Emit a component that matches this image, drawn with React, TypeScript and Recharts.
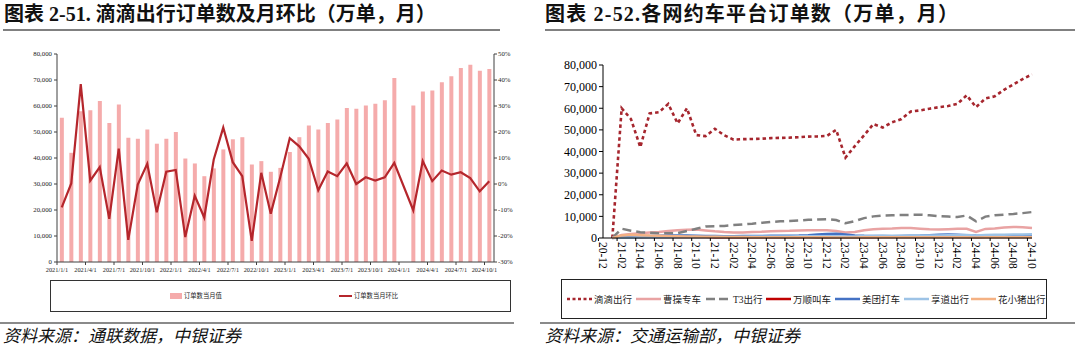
import React from 'react'
import { ComposedChart, Bar, Line, XAxis, YAxis } from 'recharts'

// ---- left chart: 滴滴出行订单数及月环比 ----
const leftMonths = [
  '2021/1/1', '2021/2/1', '2021/3/1', '2021/4/1', '2021/5/1', '2021/6/1', '2021/7/1', '2021/8/1', '2021/9/1', '2021/10/1', '2021/11/1', '2021/12/1',
  '2022/1/1', '2022/2/1', '2022/3/1', '2022/4/1', '2022/5/1', '2022/6/1', '2022/7/1', '2022/8/1', '2022/9/1', '2022/10/1', '2022/11/1', '2022/12/1',
  '2023/1/1', '2023/2/1', '2023/3/1', '2023/4/1', '2023/5/1', '2023/6/1', '2023/7/1', '2023/8/1', '2023/9/1', '2023/10/1', '2023/11/1', '2023/12/1',
  '2024/1/1', '2024/2/1', '2024/3/1', '2024/4/1', '2024/5/1', '2024/6/1', '2024/7/1', '2024/8/1', '2024/9/1', '2024/10/1',
]

// 订单数当月值（万单）
const monthlyOrders = [
  55500, 42000, 58000, 58400, 61900, 53500, 60600, 47800, 47400, 51000, 45500, 47400,
  50000, 39800, 37900, 33000, 36000, 43300, 47200, 48000, 37500, 38800, 34700, 36200,
  42300, 48000, 52500, 51000, 53500, 54800, 59200, 58900, 60200, 60900, 62200, 70800,
  null, 60200, 65600, 66000, 69100, 71400, 74600, 75900, 73600, 74200,
]

// 订单数当月环比（%）
const monthlyMoM = [
  -9.0, 0.2, 38.4, 1.3, 6.5, -13.4, 13.6, -21.5, -0.2, 7.8, -10.9, 4.7,
  5.4, -20.4, -4.5, -12.9, 9.4, 21.7, 8.4, 3.0, -21.9, 4.3, -11.4, 2.6,
  17.6, 14.5, 9.7, -2.4, 4.8, 3.0, 7.9, 0.0, 2.6, 1.3, 2.6, 8.1,
  null, -10.1, 8.8, 1.1, 5.2, 3.6, 4.5, 2.3, -2.8, 1.1,
]

const leftOrderTicks = [0, 10000, 20000, 30000, 40000, 50000, 60000, 70000, 80000]
const leftPctTicks = [-30, -20, -10, 0, 10, 20, 30, 40, 50]

// ---- right chart: 各网约车平台订单数 ----
const rightMonths = [
  '20-12', '21-01', '21-02', '21-03', '21-04', '21-05', '21-06', '21-07', '21-08', '21-09', '21-10', '21-11', '21-12',
  '22-01', '22-02', '22-03', '22-04', '22-05', '22-06', '22-07', '22-08', '22-09', '22-10', '22-11', '22-12',
  '23-01', '23-02', '23-03', '23-04', '23-05', '23-06', '23-07', '23-08', '23-09', '23-10', '23-11', '23-12',
  '24-01', '24-02', '24-03', '24-04', '24-05', '24-06', '24-07', '24-08', '24-09', '24-10',
]

const didi = [
  null, 0, 60000, 55000, 42000, 57600, 58200, 62000, 53000, 60000, 47600, 47100, 50500,
  47500, 45500, 45700, 45800, 45900, 46200, 46300, 46400, 46600, 46900, 47000, 47200,
  50000, 37200, 42500, 47500, 52700, 51100, 53500, 55000, 58500, 59000, 59800, 60500,
  61000, 62000, 66000, 60500, 64500, 65500, 68500, 71000, 73500, 75700,
]
const caocao = [
  null, 0, 1400, 1800, 2200, 2500, 2800, 3200, 3600, 3800, 3900, 3500, 3100,
  2800, 2600, 2600, 2800, 2900, 3100, 3200, 3300, 3500, 3600, 3600, 3600,
  3200, 2500, 2800, 3600, 4000, 4300, 4400, 4600, 4600, 4300, 4000, 3900,
  4100, 4300, 4300, 2800, 4200, 4400, 4800, 5100, 5000, 4600,
]
const t3 = [
  null, 0, 4300, 3400, 2700, 2500, 2200, 2200, 2300, 3200, 4300, 5300, 5400,
  5600, 6000, 6300, 6600, 7000, 7400, 7700, 7900, 8100, 8400, 8600, 8700,
  8300, 6800, 7800, 9200, 10000, 10400, 10500, 10600, 10700, 10800, 10500, 10100,
  9900, 9700, 10400, 7700, 9900, 10500, 10800, 11100, 11500, 12000,
]
const wanshun = [
  null, 0, 250, 300, 280, 320, 350, 380, 360, 330, 300, 290, 270,
  250, 240, 230, 240, 250, 260, 260, 270, 280, 290, 280, 270,
  240, 200, 230, 260, 280, 290, 300, 310, 320, 330, 320, 310,
  300, 300, 310, 250, 300, 320, 330, 340, 350, 340,
]
const meituan = [
  null, 0, 700, 800, 850, 900, 1000, 1100, 1200, 1150, 1050, 950, 900,
  850, 850, 900, 950, 950, 1000, 1000, 1050, 1100, 1300, 1600, 1900,
  2000, 1600, 1200, 1000, 900, 900, 850, 900, 1000, 1100, 1300, 1500,
  1600, 1500, 1300, 1100, 1000, 1000, 950, 1000, 1000, 1050,
]
const xiangdao = [
  null, 0, 100, 150, 200, 260, 300, 350, 420, 450, 500, 520, 550,
  560, 600, 620, 650, 660, 700, 710, 750, 760, 800, 820, 850,
  800, 650, 750, 900, 950, 1000, 1020, 1050, 1100, 1150, 1160, 1200,
  1250, 1300, 1350, 1100, 1400, 1500, 1550, 1600, 1650, 1700,
]
const huaxiaozhu = [
  null, 0, 1200, 1500, 1300, 1100, 1000, 900, 800, 700, 650, 600, 550,
  500, 450, 420, 400, 380, 360, 350, 340, 330, 320, 310, 300,
  280, 220, 260, 300, 310, 320, 330, 340, 350, 350, 340, 330,
  320, 310, 300, 240, 300, 310, 320, 330, 340, 330,
]

const rightTicks = [0, 10000, 20000, 30000, 40000, 50000, 60000, 70000, 80000]

const leftData = leftMonths.map((m, i) => ({ m, orders: monthlyOrders[i], mom: monthlyMoM[i] }))
const rightData = rightMonths.map((m, i) => ({
  m,
  didi: didi[i],
  caocao: caocao[i],
  t3: t3[i],
  wanshun: wanshun[i],
  meituan: meituan[i],
  xiangdao: xiangdao[i],
  huaxiaozhu: huaxiaozhu[i],
}))

const SERIF = "'Liberation Serif', 'Noto Sans CJK SC', serif"
const CJK = "'Liberation Serif', 'Noto Sans CJK SC', sans-serif"

const fmtThousands = (v: number) => v.toLocaleString('en-US')

// left plot is 540 - 57 - 46 wide, 46 months
const LEFT_BAND = (540 - 57 - 46) / leftMonths.length
// right plot is 540 - 63 - 48 wide, 47 months
const RIGHT_BAND = (540 - 63 - 48) / rightMonths.length

function LeftTick(props: any) {
  const { x, y, payload } = props
  const bx = x - LEFT_BAND / 2
  return (
    <g>
      <line x1={bx} x2={bx} y1={y} y2={y + 3} stroke="#404040" />
      <text x={bx} y={y + 9.5} textAnchor="middle" fontSize={6.3} fontFamily={SERIF} fill="#222">
        {payload.value}
      </text>
    </g>
  )
}

function RightTick(props: any) {
  const { x, y, payload } = props
  const bx = x - RIGHT_BAND / 2
  return (
    <g>
      <line x1={bx} x2={bx} y1={y} y2={y + 3} stroke="#000" />
      <text
        x={x}
        y={y + 4}
        transform={`rotate(90 ${x} ${y + 4})`}
        textAnchor="start"
        dominantBaseline="central"
        fontSize={11.5}
        fontFamily={SERIF}
        fill="#000"
      >
        {payload.value}
      </text>
    </g>
  )
}

const rightLegend = [
  { name: '滴滴出行', color: '#A6262E', dash: '3 2.5', width: 2.5, x: 567 },
  { name: '曹操专车', color: '#E9A3A3', dash: undefined, width: 2.5, x: 636 },
  { name: 'T3出行', color: '#808080', dash: '9 4', width: 2.5, x: 706 },
  { name: '万顺叫车', color: '#C00000', dash: undefined, width: 2.5, x: 766 },
  { name: '美团打车', color: '#4472C4', dash: undefined, width: 2.5, x: 835 },
  { name: '享道出行', color: '#9DC3E6', dash: undefined, width: 2.5, x: 904 },
  { name: '花小猪出行', color: '#F4B183', dash: undefined, width: 2.5, x: 971 },
]

export default function App() {
  return (
    <div
      style={{
        position: 'absolute',
        left: 0,
        top: 0,
        width: 1080,
        height: 353,
        background: '#fff',
        overflow: 'hidden',
      }}
    >
      {/* titles */}
      <div
        style={{ position: 'absolute', left: 4, top: 2, fontSize: 20, fontWeight: 'bold', fontFamily: CJK, lineHeight: '24px', color: '#111', whiteSpace: 'nowrap' }}
      >
        图表 2-51. 滴滴出行订单数及月环比（万单，月）
      </div>
      <div
        style={{ position: 'absolute', left: 545, top: 2, fontSize: 20, fontWeight: 'bold', fontFamily: CJK, lineHeight: '24px', color: '#111', whiteSpace: 'nowrap', letterSpacing: 1.2 }}
      >
        图表 2-52.各网约车平台订单数（万单，月）
      </div>
      <div style={{ position: 'absolute', left: 3, top: 29, width: 497, height: 1.5, background: '#808080' }} />
      <div style={{ position: 'absolute', left: 545, top: 29, width: 530, height: 1.5, background: '#808080' }} />

      {/* left chart */}
      <div style={{ position: 'absolute', left: 0, top: 0 }}>
        <ComposedChart
          width={540}
          height={280}
          data={leftData}
          margin={{ top: 54, right: 0, bottom: 0, left: 0 }}
          barCategoryGap="30%"
        >
          <XAxis
            dataKey="m"
            interval={2}
            height={18}
            tickSize={0}
            tickMargin={0}
            tick={<LeftTick />}
            axisLine={{ stroke: '#404040' }}
          />
          <YAxis
            yAxisId="l"
            width={57}
            domain={[0, 80000]}
            ticks={leftOrderTicks}
            tickFormatter={fmtThousands}
            tickSize={3}
            tickMargin={2}
            tick={{ fontSize: 6.8, fill: '#222', fontFamily: SERIF }}
            axisLine={{ stroke: '#404040' }}
            tickLine={{ stroke: '#404040' }}
          />
          <YAxis
            yAxisId="r"
            orientation="right"
            width={46}
            domain={[-30, 50]}
            ticks={leftPctTicks}
            tickFormatter={(v: number) => `${v}%`}
            tickSize={3}
            tickMargin={1}
            tick={{ fontSize: 6.8, fill: '#222', fontFamily: SERIF }}
            axisLine={{ stroke: '#404040' }}
            tickLine={{ stroke: '#404040' }}
          />
          <Bar yAxisId="l" dataKey="orders" fill="#F5ABAB" isAnimationActive={false} />
          <Line
            yAxisId="r"
            dataKey="mom"
            stroke="#B5262C"
            strokeWidth={2.2}
            dot={false}
            connectNulls
            isAnimationActive={false}
          />
        </ComposedChart>
      </div>

      {/* left legend */}
      <div style={{ position: 'absolute', left: 50, top: 280, width: 461, height: 32, border: '1px solid #333', boxSizing: 'border-box' }} />
      <div style={{ position: 'absolute', left: 170, top: 293, width: 12, height: 6, background: '#F5ABAB' }} />
      <div style={{ position: 'absolute', left: 184, top: 291, fontSize: 6.3, lineHeight: '10px', fontFamily: CJK, color: '#222' }}>
        订单数当月值
      </div>
      <div style={{ position: 'absolute', left: 339, top: 295, width: 13, height: 2, background: '#B5262C' }} />
      <div style={{ position: 'absolute', left: 354, top: 291, fontSize: 6.3, lineHeight: '10px', fontFamily: CJK, color: '#222' }}>
        订单数当月环比
      </div>

      {/* right chart */}
      <div style={{ position: 'absolute', left: 540, top: 0 }}>
        <ComposedChart width={540} height={280} data={rightData} margin={{ top: 65, right: 48, bottom: 0, left: 0 }}>
          <XAxis
            dataKey="m"
            interval={1}
            height={42}
            tickSize={0}
            tickMargin={0}
            tick={<RightTick />}
            axisLine={{ stroke: '#000' }}
          />
          <YAxis
            width={63}
            domain={[0, 80000]}
            ticks={rightTicks}
            tickFormatter={fmtThousands}
            tickSize={4}
            tickMargin={2}
            tick={{ fontSize: 12, fill: '#000', fontFamily: SERIF }}
            axisLine={{ stroke: '#000' }}
            tickLine={{ stroke: '#000' }}
          />
          <Line dataKey="didi" stroke="#A6262E" strokeWidth={2.6} strokeDasharray="3.5 3" dot={false} isAnimationActive={false} />
          <Line dataKey="caocao" stroke="#E9A3A3" strokeWidth={2.5} dot={false} isAnimationActive={false} />
          <Line dataKey="t3" stroke="#808080" strokeWidth={2.5} strokeDasharray="9 5" dot={false} isAnimationActive={false} />
          <Line dataKey="wanshun" stroke="#C00000" strokeWidth={2} dot={false} isAnimationActive={false} />
          <Line dataKey="meituan" stroke="#4472C4" strokeWidth={2.5} dot={false} isAnimationActive={false} />
          <Line dataKey="xiangdao" stroke="#9DC3E6" strokeWidth={2.5} dot={false} isAnimationActive={false} />
          <Line dataKey="huaxiaozhu" stroke="#F4B183" strokeWidth={2.5} dot={false} isAnimationActive={false} />
        </ComposedChart>
      </div>

      {/* right legend */}
      <div style={{ position: 'absolute', left: 561, top: 279, width: 486, height: 40, border: '1px solid #222', boxSizing: 'border-box' }} />
      {rightLegend.map((it) => (
        <div
          key={it.name}
          style={{ position: 'absolute', left: it.x, top: 292, height: 14, display: 'flex', alignItems: 'center', whiteSpace: 'nowrap' }}
        >
          <svg width={25} height={8}>
            <line x1={0} x2={25} y1={4} y2={4} stroke={it.color} strokeWidth={it.width} strokeDasharray={it.dash} />
          </svg>
          <span style={{ marginLeft: 2, fontSize: 9.5, fontFamily: CJK, color: '#222' }}>{it.name}</span>
        </div>
      ))}

      {/* separators and sources */}
      <div style={{ position: 'absolute', left: 0, top: 322, width: 514, height: 2, background: '#8a8a8a' }} />
      <div style={{ position: 'absolute', left: 540, top: 322, width: 535, height: 2, background: '#8a8a8a' }} />
      <div style={{ position: 'absolute', left: 3, top: 326, fontSize: 17, fontStyle: 'italic', fontFamily: CJK, lineHeight: '22px', color: '#111', whiteSpace: 'nowrap' }}>
        资料来源：通联数据，中银证券
      </div>
      <div style={{ position: 'absolute', left: 545, top: 326, fontSize: 17, fontStyle: 'italic', fontFamily: CJK, lineHeight: '22px', color: '#111', whiteSpace: 'nowrap' }}>
        资料来源：交通运输部，中银证券
      </div>
    </div>
  )
}
